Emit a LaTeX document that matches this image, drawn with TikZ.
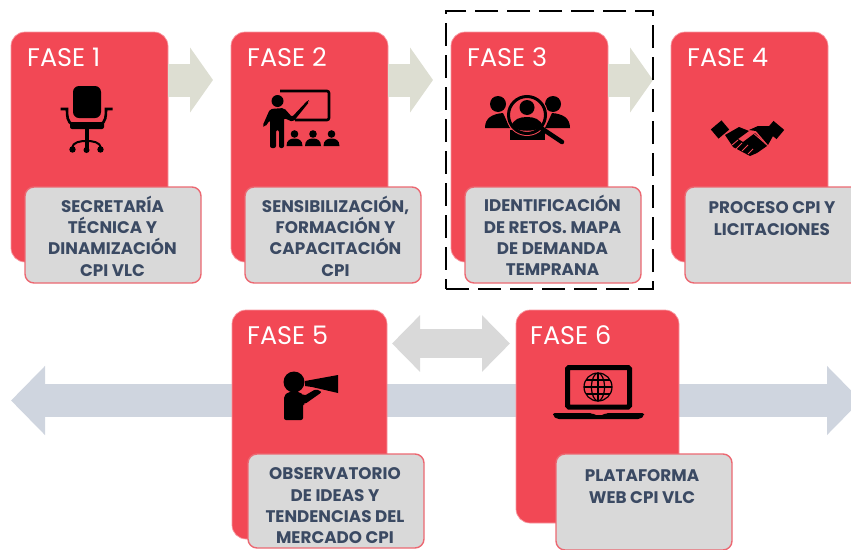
\documentclass[tikz,border=0pt]{standalone}
\usepackage{fontspec}
\setmainfont{Poppins}
\usetikzlibrary{arrows.meta}
\definecolor{cardred}{HTML}{F24855}
\definecolor{cardedge}{HTML}{F79AA2}
\definecolor{boxgray}{HTML}{D9D9D9}
\definecolor{boxedge}{HTML}{EC6872}
\definecolor{txtblue}{HTML}{3B4A63}
\definecolor{arrowbeige}{HTML}{DDDED2}
\definecolor{arrowgray}{HTML}{D9D9D9}
\definecolor{arrowblue}{HTML}{CFD5DF}
\tikzset{
 card/.style={draw=cardedge,line width=.7pt,fill=cardred,rounded corners=14pt,anchor=north west,inner sep=0pt,outer sep=0pt},
 greybox/.style={draw=boxedge,line width=1.4pt,fill=boxgray,rounded corners=9pt,anchor=north west,inner sep=0pt,outer sep=0pt,minimum width=176pt},
 fase/.style={text=white,anchor=west,inner sep=0pt,font=\fontsize{25.5}{27}\selectfont},
 lbl/.style={text=txtblue,align=center,inner sep=0pt,font=\fontsize{16.8}{21.3}\bfseries\selectfont},
 beigearrow/.style={draw=arrowbeige,line width=33pt,-{Triangle[length=23pt,width=64pt,fill=arrowbeige]}},
 grayarrow/.style={draw=arrowgray,line width=29pt,{Triangle[length=28pt,width=55pt,fill=arrowgray]}-{Triangle[length=28pt,width=55pt,fill=arrowgray]}},
 bluearrow/.style={draw=arrowblue,line width=33pt,{Triangle[length=34pt,width=67pt,fill=arrowblue]}-{Triangle[length=34pt,width=67pt,fill=arrowblue]}},
 ink/.style={fill=black,draw=none},
 inkline/.style={draw=black,fill=none},
}
\begin{document}
\begin{tikzpicture}[x=1pt,y=-1pt]
\useasboundingbox (0,0) rectangle (851,549);
\clip (0,0) rectangle (851,549);
% free arrow ends
\coordinate (lt) at (11,400.5);
\coordinate (rt) at (861,400.5);
\coordinate (dl) at (392,343.5);
\coordinate (dr) at (510,343.5);
\coordinate (e1) at (213,80);
\coordinate (e2) at (433,80);
\coordinate (e3) at (653,80);
\draw[bluearrow] (lt) -- (rt);
\draw[grayarrow] (dl) -- (dr);
% cards
\node[card,minimum width=157pt,minimum height=230pt] (c1) at (11,32) {};
\node[card,minimum width=157pt,minimum height=230pt] (c2) at (231,32) {};
\node[card,minimum width=157pt,minimum height=230pt] (c3) at (451,32) {};
\node[card,minimum width=157pt,minimum height=230pt] (c4) at (671,32) {};
\node[card,minimum width=155pt,minimum height=229pt] (c5) at (232,310) {};
\node[card,minimum width=163pt,minimum height=213pt] (c6) at (516,310) {};
\draw[beigearrow] (c1.east|-e1) -- (e1);
\draw[beigearrow] (c2.east|-e2) -- (e2);
\draw[beigearrow] (c3.east|-e3) -- (e3);
% grey boxes
\node[greybox,minimum height=96pt] (b1) at (25,187) {};
\node[greybox,minimum height=96pt] (b2) at (245,187) {};
\node[greybox,minimum height=96pt] (b3) at (465,187) {};
\node[greybox,minimum height=96pt] (b4) at (685,187) {};
\node[greybox,minimum height=94pt] (b5) at (248,454) {};
\node[greybox,minimum height=96pt] (b6) at (556,454) {};
% titles
\node[fase] (f1) at (27,57) {FASE 1};
\node[fase] (f2) at (247,57) {FASE 2};
\node[fase] (f3) at (467,57) {FASE 3};
\node[fase] (f4) at (687,57) {FASE 4};
\node[fase] (f5) at (247,335) {FASE 5};
\node[fase] (f6) at (530,335) {FASE 6};
% labels
\node[lbl] (t1) at (112.5,236) {SECRETARÍA\\TÉCNICA Y\\DINAMIZACIÓN\\CPI VLC};
\node[lbl] (t2) at (335.5,236) {SENSIBILIZACIÓN,\\FORMACIÓN Y\\CAPACITACIÓN\\CPI};
\node[lbl] (t3) at (552.5,235.5) {IDENTIFICACIÓN\\DE RETOS. MAPA\\DE DEMANDA\\TEMPRANA};
\node[lbl] (t4) at (772,218.5) {PROCESO CPI Y\\LICITACIONES};
\node[lbl] (t5) at (335,506) {OBSERVATORIO\\DE IDEAS Y\\TENDENCIAS DEL\\MERCADO CPI};
\node[lbl] (t6) at (642,486.5) {PLATAFORMA\\WEB CPI VLC};
% dashed frame
\node[draw=black,line width=2.8pt,dash pattern=on 23pt off 9pt,anchor=north west,inner sep=0pt,outer sep=0pt,minimum width=207pt,minimum height=278pt] (frame) at (446,11) {};
% chair
\fill[ink,rounded corners=6pt] (73,118) -- (73,86) -- (101,86) -- (101,118) -- cycle;
\draw[inkline,line width=2.6pt] (60.5,109) -- (67,109) .. controls (67,116) and (67,122) .. (73,125);
\draw[inkline,line width=2.6pt] (112.5,109) -- (106,109) .. controls (106,116) and (106,122) .. (100,125);
\fill[ink,rounded corners=2pt] (70,122) rectangle (104,129);
\fill[ink] (85,129) rectangle (88.5,150);
\draw[inkline,line width=2pt] (72,148) .. controls (73,142) and (80,141) .. (86.5,141) .. controls (93,141) and (100,142) .. (101,148);
\fill[ink] (72.5,149.5) circle (3.2) (86.5,150) circle (3) (100.5,149.5) circle (3.2);
% teacher
\draw[inkline,line width=2.6pt,rounded corners=2pt] (280,91) -- (329,91) -- (329,120) -- (295,120);
\fill[ink] (277.5,101) circle (6);
\fill[ink,rounded corners=2pt] (270,109) -- (284,108) -- (292,117) -- (308,100) -- (309.5,101.5) -- (293,122) -- (284,118) -- (284,148) -- (279,148) -- (279,130) -- (276,130) -- (276,148) -- (270,148) -- (270,120) -- (265,127) -- (262.5,126) -- cycle;
\foreach \cx in {294.5,313,331.5}{
 \fill[ink] (\cx,134) circle (3.8);
 \fill[ink] (\cx-8,146) .. controls (\cx-8,140) and (\cx-4,138.5) .. (\cx,138.5) .. controls (\cx+4,138.5) and (\cx+8,140) .. (\cx+8,146) -- cycle;
}
% searching people
\fill[ink] (498,104) circle (8);
\fill[ink] (553,104) circle (8);
\fill[ink] (485,128) .. controls (485,118) and (492,114) .. (503,113) -- (510,128) -- cycle;
\fill[ink] (570,128) .. controls (570,118) and (563,114) .. (552,113) -- (545,128) -- cycle;
\fill[ink] (509.5,140) -- (509.5,130) -- (545,130) -- (545,140) -- cycle;
\fill[cardred] (527,115) circle (21);
\draw[inkline,line width=3pt] (527,115) circle (18.5);
\fill[ink] (527,107.5) circle (7.5);
\fill[ink] (511,127) .. controls (513,119) and (520,117) .. (527,117) .. controls (534,117) and (541,119) .. (543,127) .. controls (533,132) and (521,132) .. (511,127) -- cycle;
\draw[inkline,line width=4.5pt,line cap=round] (541,128) -- (562,142);
% handshake
\fill[ink,rotate around={40:(720,129.5)}] (713,123.5) rectangle (727,135.5);
\fill[ink,rotate around={-40:(775,130)}] (768,124) rectangle (782,136);
\fill[ink] (725,135) -- (739,127) -- (749,131) -- (738,139) -- (743,142) -- (755,133) -- (767,146) -- (757,153) -- (750,156) -- (733,147) -- cycle;
\fill[ink] (749,130) -- (758,126) -- (770,126) -- (773,136) -- (768,145) -- (756,131) -- cycle;
\draw[cardred,line width=.9pt] (732,145) -- (738,140) (736,149) -- (742,143) (742,151) -- (748,145) (748,154) -- (753,149) (742,139) -- (752,132) -- (766,144);
% megaphone
\fill[ink] (294,382) circle (10.5);
\fill[ink,rounded corners=2pt] (284,420) -- (284,396) -- (288,392) -- (300,392) -- (304,396) -- (316,389) -- (322,392) -- (305,404) -- (303,404) -- (303,420) -- cycle;
\fill[ink] (305,381) -- (338,375) -- (338,393) -- (312,387) -- (305,386) -- cycle;
% laptop
\draw[inkline,line width=5pt,rounded corners=1.5pt] (567.5,367.5) rectangle (629.5,407);
\fill[ink,rounded corners=2pt] (553,413) -- (592,413) -- (594,415) -- (604,415) -- (606,413) -- (644,413) -- (644,416) -- (640,419) -- (557,419) -- (553,416) -- cycle;
\draw[inkline,line width=1.2pt] (598,387) circle (14);
\draw[inkline,line width=1.2pt] (598,387) ellipse (6.5 and 14);
\draw[inkline,line width=1.2pt] (584,387) -- (612,387) (598,373) -- (598,401) (586,380) -- (610,380) (586,394) -- (610,394);
\end{tikzpicture}
\end{document}
